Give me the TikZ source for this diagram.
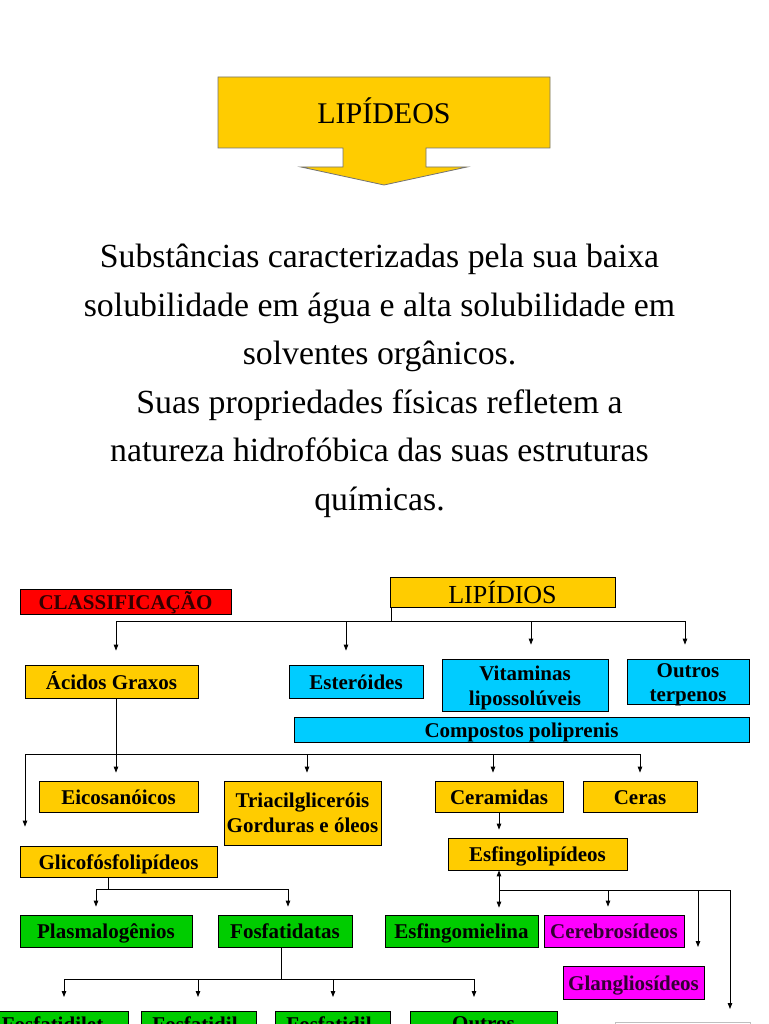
\documentclass[tikz,border=0pt]{standalone}
\usepackage{fontspec}
\setmainfont{Liberation Serif}
\usetikzlibrary{arrows.meta}
\definecolor{yel}{HTML}{FFCC00}
\definecolor{cyn}{HTML}{00CCFF}
\definecolor{grn}{HTML}{00CC00}
\definecolor{mag}{HTML}{FF00FF}
\definecolor{rd}{HTML}{FF0000}
\definecolor{darkred}{HTML}{330000}
\definecolor{darkmag}{HTML}{330033}
\begin{document}
\begin{tikzpicture}[x=1pt,y=-1pt,
  bx/.style={draw=black, line width=0.8pt, inner sep=0pt, font=\bfseries\fontsize{21}{25}\selectfont, align=center},
  one/.style={text height=17pt, text depth=2pt},
  yb/.style={bx, fill=yel},
  cb/.style={bx, fill=cyn},
  gb/.style={bx, fill=grn},
  mb/.style={bx, fill=mag, text=darkmag},
  ln/.style={line width=0.9pt, draw=black},
  arr/.style={ln, -{Triangle[length=6pt,width=4.5pt]}},
  darr/.style={ln, {Triangle[length=6pt,width=4.5pt]}-{Triangle[length=6pt,width=4.5pt]}},
  lbl/.style={inner sep=0pt, font=\bfseries\fontsize{21}{25}\selectfont, align=center}]
\useasboundingbox (0,0) rectangle (768,1024);
\clip (0,0) rectangle (768,1024);
\fill[white] (0,0) rectangle (768,1024);

% title arrow box
\path[fill=yel, draw=black!55, line width=0.8pt]
  (218,77) -- (550,77) -- (550,148) -- (426,148) -- (426,167) -- (467,167)
  -- (384,185) -- (301,167) -- (343,167) -- (343,148) -- (218,148) -- cycle;
\node[inner sep=0pt, font=\fontsize{30}{34}\selectfont] (title) at (384,111) {LIPÍDEOS};

% paragraph
\node[inner sep=0pt, font=\fontsize{33.8}{48.5}\selectfont, align=center] (par) at (379.5,381)
 {Substâncias caracterizadas pela sua baixa\\
  solubilidade em água e alta solubilidade em\\
  solventes orgânicos.\\
  Suas propriedades físicas refletem a\\
  natureza hidrofóbica das suas estruturas\\
  químicas.};

% classification header
\node[bx, one, fill=rd, text=darkred, minimum width=211pt, minimum height=25pt] (cls) at (125.5,601.5) {CLASSIFICAÇÃO};
\node[bx, fill=yel, font=\fontsize{26}{30}\selectfont, minimum width=225pt, minimum height=30pt] (lip) at (502.5,592) {LIPÍDIOS};

% level 1
\node[yb, one, minimum width=173pt, minimum height=33pt] (ag) at (111.5,681.5) {Ácidos Graxos};
\node[cb, one, minimum width=134pt, minimum height=33pt] (est) at (356,681.5) {Esteróides};
\node[cb, minimum width=166pt, minimum height=52pt] (vit) at (525,685) {};
\node[lbl] at ([yshift=-3pt]vit.center) {Vitaminas\\lipossolúveis};
\node[cb, minimum width=122pt, minimum height=45pt] (out) at (688,681.5) {};
\node[lbl, font=\bfseries\fontsize{21}{24}\selectfont] at ([yshift=-3.5pt]out.center) {Outros\\terpenos};
\node[cb, minimum width=455pt, minimum height=25pt] (comp) at (521.5,729.5) {};
\node[lbl] at ([yshift=-3pt]comp.center) {Compostos poliprenis};

\coordinate (j1) at (391,621);
\coordinate (h1l) at (116,621);
\coordinate (h1r) at (685,621);
\draw[ln] (lip.south -| j1) -- (j1);
\draw[ln] (h1l) -- (h1r);
\draw[arr] (h1l) -- ([yshift=14pt]ag.north -| h1l);
\coordinate (h1b) at (346,621);
\draw[arr] (h1b) -- ([yshift=14pt]est.north -| h1b);
\coordinate (h1c) at (531,621);
\draw[arr] (h1c) -- ([yshift=14pt]vit.north -| h1c);
\draw[arr] (h1r) -- ([yshift=14pt]out.north -| h1r);

% level 2
\node[yb, one, minimum width=159pt, minimum height=31pt] (eic) at (118.5,796.5) {Eicosanóicos};
\node[yb, minimum width=157pt, minimum height=64pt] (tri) at (302.5,813) {Triacilgliceróis\\Gorduras e óleos};
\node[yb, one, minimum width=128pt, minimum height=31pt] (cer) at (499,796.5) {Ceramidas};
\node[yb, one, minimum width=114pt, minimum height=31pt] (ceras) at (640,796.5) {Ceras};
\node[yb, one, minimum width=197pt, minimum height=31pt] (gli) at (118.5,861.5) {Glicofósfolipídeos};
\node[yb, one, minimum width=179pt, minimum height=32pt] (esf) at (537.5,854) {Esfingolipídeos};

\coordinate (j2) at (116,754);
\coordinate (h2l) at (25,754);
\coordinate (h2r) at (640,754);
\draw[ln] (ag.south -| j2) -- (j2);
\draw[ln] (h2l) -- (h2r);
\draw[arr] (j2) -- ([yshift=8pt]eic.north -| j2);
\coordinate (h2b) at (307,754);
\draw[arr] (h2b) -- ([yshift=8pt]tri.north -| h2b);
\coordinate (h2c) at (493,754);
\draw[arr] (h2c) -- ([yshift=8pt]cer.north -| h2c);
\draw[arr] (h2r) -- ([yshift=8pt]ceras.north -| h2r);
\draw[arr] (h2l) -- ([yshift=19pt]gli.north -| h2l);
\coordinate (jc) at (499,812);
\draw[arr] (cer.south -| jc) -- ([yshift=8pt]esf.north -| jc);

% level 3 (glicofosfolipideos)
\node[gb, one, minimum width=172pt, minimum height=32pt] (pla) at (106,931) {Plasmalogênios};
\node[gb, one, minimum width=134pt, minimum height=32pt] (fos) at (285,931) {Fosfatidatas};
\coordinate (j3) at (108,889);
\coordinate (h3l) at (96,889);
\coordinate (h3r) at (288,889);
\draw[ln] (gli.south -| j3) -- (j3);
\draw[ln] (h3l) -- (h3r);
\draw[arr] (h3l) -- ([yshift=8pt]pla.north -| h3l);
\draw[arr] (h3r) -- ([yshift=8pt]fos.north -| h3r);

% level 4 (fosfatidatas)
\node[gb, minimum width=144pt, minimum height=50pt, anchor=north] (f1) at (56,1011) {};
\node[gb, minimum width=115pt, minimum height=50pt, anchor=north] (f2) at (198.5,1011) {};
\node[gb, minimum width=115pt, minimum height=50pt, anchor=north] (f3) at (332.5,1011) {};
\node[gb, minimum width=147pt, minimum height=50pt, anchor=north] (f4) at (483.5,1011) {};
\node[lbl, anchor=north] at ([yshift=-5pt]f1.north) {Fosfatidilet-\\anolamina};
\node[lbl, anchor=north] at ([yshift=-5pt]f2.north) {Fosfatidil-\\colina};
\node[lbl, anchor=north] at ([yshift=-5pt]f3.north) {Fosfatidil-\\serina};
\node[lbl, anchor=north] at ([yshift=-5pt]f4.north) {Outros};
\coordinate (j4) at (281,979);
\coordinate (h4l) at (64,979);
\coordinate (h4r) at (474,979);
\draw[ln] (fos.south -| j4) -- (j4);
\draw[ln] (h4l) -- (h4r);
\draw[arr] (h4l) -- ([yshift=14pt]f1.north -| h4l);
\coordinate (h4b) at (198,979);
\draw[arr] (h4b) -- ([yshift=14pt]f2.north -| h4b);
\coordinate (h4c) at (333,979);
\draw[arr] (h4c) -- ([yshift=14pt]f3.north -| h4c);
\draw[arr] (h4r) -- ([yshift=14pt]f4.north -| h4r);

% esfingolipideos children
\node[gb, one, minimum width=153pt, minimum height=32pt] (emi) at (461.5,931) {Esfingomielina};
\node[mb, one, minimum width=140pt, minimum height=32pt] (cbr) at (614,931) {Cerebrosídeos};
\node[mb, one, minimum width=141pt, minimum height=33pt] (gla) at (633.5,982.5) {Glangliosídeos};
\node[draw=black!25, fill=white, line width=0.8pt, inner sep=0pt, minimum width=135pt, minimum height=40pt, anchor=north] (gray) at (682.5,1022) {};

\coordinate (j5) at (499,890);
\coordinate (h5r) at (730,890);
\draw[darr] (esf.south -| j5) -- ([yshift=7pt]emi.north -| j5);
\draw[ln] (j5) -- (h5r);
\coordinate (h5b) at (608,890);
\draw[arr] (h5b) -- ([yshift=8pt]cbr.north -| h5b);
\coordinate (h5c) at (698,890);
\coordinate (e5c) at (698,947);
\draw[arr] (h5c) -- (e5c);
\draw[arr] (h5r) -- ([yshift=13pt]gray.north -| h5r);
\end{tikzpicture}
\end{document}
